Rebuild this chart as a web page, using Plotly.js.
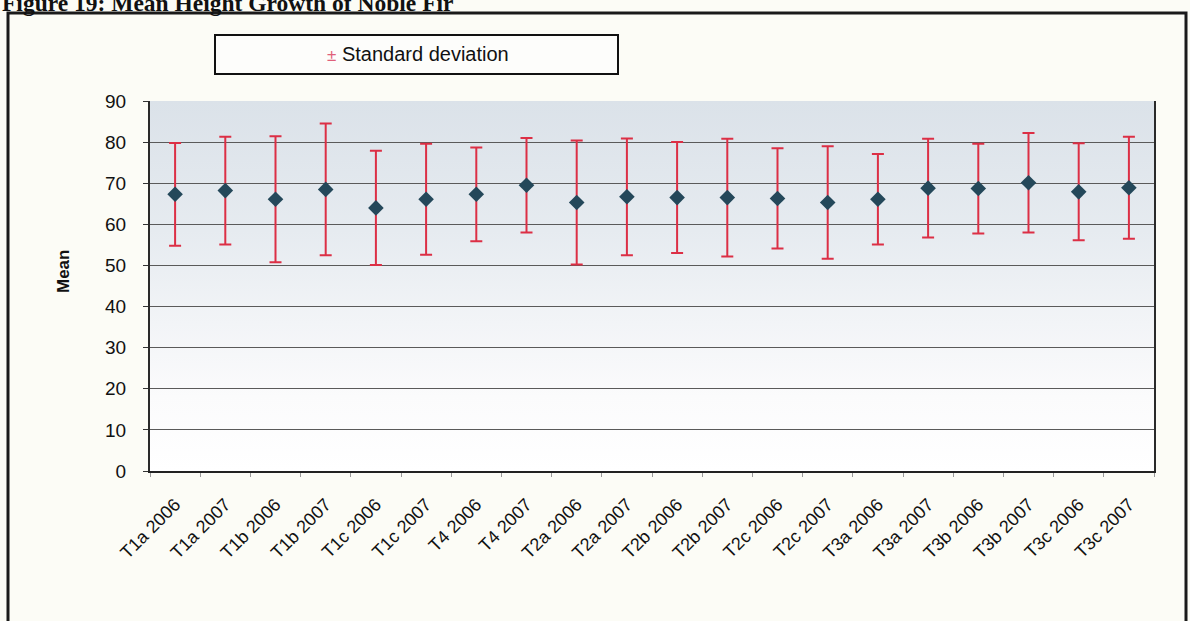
<!DOCTYPE html>
<html>
<head>
<meta charset="utf-8">
<script src="https://cdn.plot.ly/plotly-3.0.1.min.js"></script>
<style>
  html, body { margin: 0; padding: 0; background: #fcfcf6; }
  #chart { width: 1190px; height: 621px; }
</style>
</head>
<body>
<div id="chart"></div>
<script>
// Noble fir plots, by treatment and year
const categories = [
  'T1a 2006', 'T1a 2007', 'T1b 2006', 'T1b 2007', 'T1c 2006', 'T1c 2007',
  'T4 2006', 'T4 2007', 'T2a 2006', 'T2a 2007', 'T2b 2006', 'T2b 2007',
  'T2c 2006', 'T2c 2007', 'T3a 2006', 'T3a 2007', 'T3b 2006', 'T3b 2007',
  'T3c 2006', 'T3c 2007'
];

// Mean height and its standard deviation
const meanHeight = [
  67.3, 68.2, 66.1, 68.5, 64.0, 66.1,
  67.3, 69.5, 65.3, 66.7, 66.5, 66.5,
  66.3, 65.3, 66.1, 68.8, 68.7, 70.1,
  67.9, 68.9
];
const stdDev = [
  12.5, 13.1, 15.3, 16.0, 13.9, 13.5,
  11.4, 11.5, 15.1, 14.2, 13.5, 14.3,
  12.2, 13.7, 11.0, 12.0, 10.9, 12.1,
  11.8, 12.4
];

const yTicks = [0, 10, 20, 30, 40, 50, 60, 70, 80, 90];

const chartTitle = 'Figure 19: Mean Height Growth of Noble Fir';
const yTitle = 'Mean';
const legendLabel = 'Standard deviation';

// page geometry (pixels) for the plot frame
const W = 1190, H = 621;
const M = { l: 150, r: 36, t: 101, b: 150 };
const plotW = W - M.l - M.r, plotH = H - M.t - M.b;
const px = X => (X - M.l) / plotW;          // page x -> paper x
const py = Y => (H - M.b - Y) / plotH;      // page y -> paper y

// soft blue-grey wash fading to white toward the bottom of the plot area
const wash = 'data:image/svg+xml;charset=utf-8,' + encodeURIComponent(
  '<svg xmlns="http://www.w3.org/2000/svg" width="100" height="100" preserveAspectRatio="none">' +
  '<defs><linearGradient id="g" x1="0" y1="0" x2="0" y2="1">' +
  '<stop offset="0" stop-color="#dbe2e9"/>' +
  '<stop offset="0.35" stop-color="#e6ebf0"/>' +
  '<stop offset="0.6" stop-color="#f2f4f7"/>' +
  '<stop offset="0.8" stop-color="#fbfbfc"/>' +
  '<stop offset="1" stop-color="#ffffff"/>' +
  '</linearGradient></defs>' +
  '<rect width="100" height="100" fill="url(#g)"/></svg>'
);

const sansFont = 'Liberation Sans, Arial, sans-serif';

const trace = {
  type: 'scatter',
  mode: 'markers',
  x: categories,
  y: meanHeight,
  error_y: {
    type: 'data',
    array: stdDev,
    visible: true,
    color: '#dc2f45',
    thickness: 2,
    width: 6
  },
  marker: { symbol: 'diamond', size: 12, color: '#24485a' },
  showlegend: false,
  hoverinfo: 'x+y'
};

const layout = {
  width: W,
  height: H,
  margin: M,
  paper_bgcolor: '#fcfcf6',
  plot_bgcolor: 'rgba(0,0,0,0)',
  showlegend: false,
  font: { family: sansFont, color: '#111' },
  xaxis: {
    type: 'category',
    range: [-0.5, categories.length - 0.5],
    tickangle: -45,
    tickson: 'boundaries',
    ticks: 'outside',
    ticklen: 4,
    tickcolor: '#999',
    ticklabelstandoff: 14,
    showline: true,
    linecolor: '#222',
    linewidth: 2,
    showgrid: false,
    zeroline: false,
    tickfont: { family: sansFont, size: 18, color: '#111' }
  },
  yaxis: {
    range: [0, 90],
    tickvals: yTicks,
    ticktext: yTicks.map(String),
    ticks: 'outside',
    ticklen: 5,
    tickcolor: '#333',
    ticklabelstandoff: 13,
    showline: true,
    mirror: true,
    linecolor: '#2a2a2a',
    linewidth: 2,
    showgrid: true,
    gridcolor: '#5a5a5a',
    gridwidth: 1,
    zeroline: false,
    tickfont: { family: sansFont, size: 19, color: '#111' }
  },
  images: [{
    source: wash,
    xref: 'paper', yref: 'paper',
    x: 0, y: 1, sizex: 1, sizey: 1,
    xanchor: 'left', yanchor: 'top',
    sizing: 'stretch',
    layer: 'below'
  }],
  shapes: [
    // outer frame around the figure
    {
      type: 'rect', xref: 'paper', yref: 'paper',
      x0: px(8), x1: px(1186), y0: py(660), y1: py(13),
      line: { color: '#1a1a1a', width: 3 },
      fillcolor: 'rgba(0,0,0,0)'
    },
    // legend box
    {
      type: 'rect', xref: 'paper', yref: 'paper',
      x0: px(215), x1: px(618), y0: py(74), y1: py(35),
      line: { color: '#111', width: 2 },
      fillcolor: '#fdfdfb'
    }
  ],
  annotations: [
    {
      text: chartTitle,
      xref: 'paper', yref: 'paper',
      x: px(0), y: py(3),
      xanchor: 'left', yanchor: 'middle',
      showarrow: false,
      font: { family: 'Liberation Serif, Times New Roman, serif', size: 23.5, color: '#111', weight: 'bold' }
    },
    {
      text: '<span style="color:#e0607a;font-size:17px">±</span> ' + legendLabel,
      xref: 'paper', yref: 'paper',
      x: px(418), y: py(54),
      xanchor: 'center', yanchor: 'middle',
      showarrow: false,
      font: { family: sansFont, size: 20, color: '#111' }
    },
    {
      text: yTitle,
      xref: 'paper', yref: 'paper',
      x: px(63), y: py(272),
      xanchor: 'center', yanchor: 'middle',
      textangle: -90,
      showarrow: false,
      font: { family: sansFont, size: 17, color: '#111', weight: 'bold' }
    }
  ]
};

Plotly.newPlot('chart', [trace], layout, { displayModeBar: false, staticPlot: true });
</script>
</body>
</html>
